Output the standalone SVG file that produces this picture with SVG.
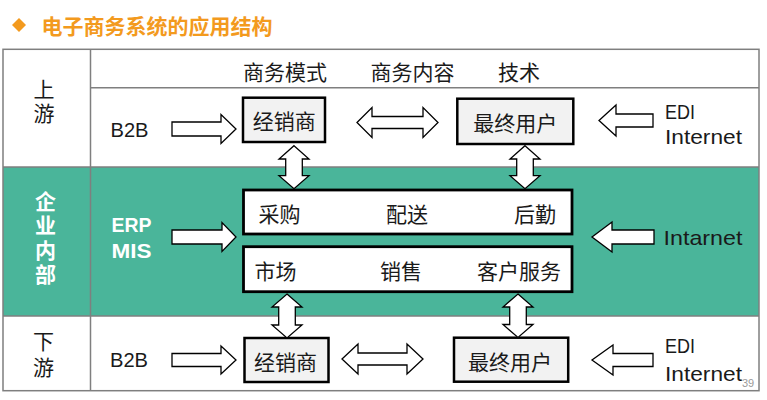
<svg xmlns="http://www.w3.org/2000/svg" width="767" height="400" viewBox="0 0 767 400">
<style>
.cjk{font-family:"Noto Sans CJK SC","Noto Sans",sans-serif;font-size:21px;fill:#1a1a1a;dominant-baseline:central;text-anchor:middle}
.vt{font-family:"Noto Sans CJK SC","Noto Sans",sans-serif;font-size:21px;fill:#1a1a1a;writing-mode:vertical-rl}
.lat{font-family:"Liberation Sans","DejaVu Sans",sans-serif;font-size:21px;fill:#1a1a1a}
.grid{fill:none;stroke:#7f7f7f;stroke-width:1.5}
.box{fill:#f2f2f2;stroke:#000;stroke-width:2.5}
.ibox{fill:#ffffff;stroke:#000;stroke-width:2.8}
.arr{fill:#ffffff;stroke:#000;stroke-width:1.3;stroke-linejoin:miter}
</style>
<rect width="767" height="400" fill="#ffffff"/>
<!-- title -->
<g id="title">
<polygon points="19,18 26,25 19,32 12,25" fill="#F39A1E"/>
<text x="41.5" y="25" style="font-family:'Noto Sans CJK SC',sans-serif;font-size:21px;font-weight:bold;fill:#F39A1E;dominant-baseline:central">电子商务系统的应用结构</text>
</g>
<!-- table -->
<g id="table">
<rect x="3" y="167" width="756" height="149" fill="#4AB59A"/>
<rect class="grid" x="3" y="49.3" width="756" height="341.4"/>
<line class="grid" x1="90.5" y1="49.3" x2="90.5" y2="390.7"/>
<line class="grid" x1="90.5" y1="87.7" x2="759" y2="87.7"/>
<line class="grid" x1="3" y1="167" x2="759" y2="167"/>
<line class="grid" x1="3" y1="316" x2="759" y2="316"/>
</g>
<!-- row labels -->
<g id="row-upstream">
<text class="vt" x="44" y="79" letter-spacing="3">上游</text>
</g>
<g id="row-internal">
<text class="vt" x="45.5" y="190.5" letter-spacing="3.5" style="font-weight:bold;fill:#ffffff">企业内部</text>
</g>
<g id="row-downstream">
<text class="vt" x="43.5" y="331" letter-spacing="4.5">下游</text>
</g>
<!-- header -->
<g id="header">
<text class="cjk" x="285" y="71">商务模式</text>
<text class="cjk" x="412.5" y="71">商务内容</text>
<text class="cjk" x="519" y="71">技术</text>
</g>
<!-- side labels -->
<g id="labels">
<text class="lat" x="110.5" y="136.5" textLength="38" lengthAdjust="spacingAndGlyphs">B2B</text>
<text class="lat" x="665" y="118.5" textLength="30" lengthAdjust="spacingAndGlyphs">EDI</text>
<text class="lat" x="665" y="144" textLength="77" lengthAdjust="spacingAndGlyphs">Internet</text>
<text x="111.5" y="232" textLength="40" lengthAdjust="spacingAndGlyphs" style="font-family:'Liberation Sans',sans-serif;font-size:21px;font-weight:bold;fill:#fff">ERP</text>
<text x="111.5" y="257.5" textLength="40" lengthAdjust="spacingAndGlyphs" style="font-family:'Liberation Sans',sans-serif;font-size:21px;font-weight:bold;fill:#fff">MIS</text>
<text class="lat" x="663.5" y="244.5" textLength="79" lengthAdjust="spacingAndGlyphs">Intarnet</text>
<text class="lat" x="110" y="366.5" textLength="38" lengthAdjust="spacingAndGlyphs">B2B</text>
<text class="lat" x="665" y="353" textLength="30" lengthAdjust="spacingAndGlyphs">EDI</text>
<text class="lat" x="665" y="381" textLength="77" lengthAdjust="spacingAndGlyphs">Internet</text>
<text x="742" y="387" style="font-family:'Liberation Sans',sans-serif;font-size:11px;fill:#9a9a9a">39</text>
</g>
<!-- nodes -->
<g id="dealer-up">
<rect class="box" x="243" y="97.7" width="82" height="44.3"/>
<text class="cjk" x="284.2" y="120.3">经销商</text>
</g>
<g id="user-up">
<rect class="box" x="457.3" y="98.7" width="116" height="45.3"/>
<text class="cjk" x="515.3" y="122">最终用户</text>
</g>
<g id="internal-top">
<rect class="ibox" x="243.5" y="190" width="328.5" height="44"/>
<text class="cjk" x="279.5" y="213">采购</text>
<text class="cjk" x="407" y="213">配送</text>
<text class="cjk" x="535" y="213">后勤</text>
</g>
<g id="internal-bottom">
<rect class="ibox" x="243.5" y="246.7" width="328.5" height="45"/>
<text class="cjk" x="275.5" y="270">市场</text>
<text class="cjk" x="401" y="270">销售</text>
<text class="cjk" x="519" y="270">客户服务</text>
</g>
<g id="dealer-down">
<rect class="box" x="244.5" y="338" width="84" height="44"/>
<text class="cjk" x="285.5" y="361">经销商</text>
</g>
<g id="user-down">
<rect class="box" x="454" y="337.7" width="114.2" height="44"/>
<text class="cjk" x="510" y="361">最终用户</text>
</g>
<!-- connectors -->
<g id="connectors">
<polygon class="arr" points="172,122 221,122 221,114.5 236,129 221,143.5 221,136 172,136"/>
<polygon class="arr" points="172,230 222,230 222,222.5 236,237 222,251.5 222,244 172,244"/>
<polygon class="arr" points="172,353.5 221,353.5 221,346 236,360 221,374 221,366.5 172,366.5"/>
<polygon class="arr" points="653,114 616,114 616,105 599,120.5 616,136 616,127 653,127"/>
<polygon class="arr" points="654,230 612,230 612,222 592,237 612,252 612,244 654,244"/>
<polygon class="arr" points="653,353.5 613,353.5 613,345 592,360 613,375 613,366.5 653,366.5"/>
<polygon class="arr" points="357,122.5 372,107.5 372,116.5 423,116.5 423,107.5 438,122.5 423,137.5 423,128.5 372,128.5 372,137.5"/>
<polygon class="arr" points="342,359 358,344 358,353 407,353 407,344 423,359 407,374 407,365 358,365 358,374"/>
<polygon class="arr" points="294,145.7 309,159 302.3,159 302.3,175.7 309,175.7 294,188.7 279,175.7 285.7,175.7 285.7,159 279,159"/>
<polygon class="arr" points="525,145.7 540,159 533.3,159 533.3,175.7 540,175.7 525,188.7 510,175.7 516.7,175.7 516.7,159 510,159"/>
<polygon class="arr" points="287,294 302,307 295.3,307 295.3,325 302,325 287,338 272,325 278.7,325 278.7,307 272,307"/>
<polygon class="arr" points="518,294 533,307 526.3,307 526.3,324.5 533,324.5 518,337.5 503,324.5 509.7,324.5 509.7,307 503,307"/>
</g>
</svg>
